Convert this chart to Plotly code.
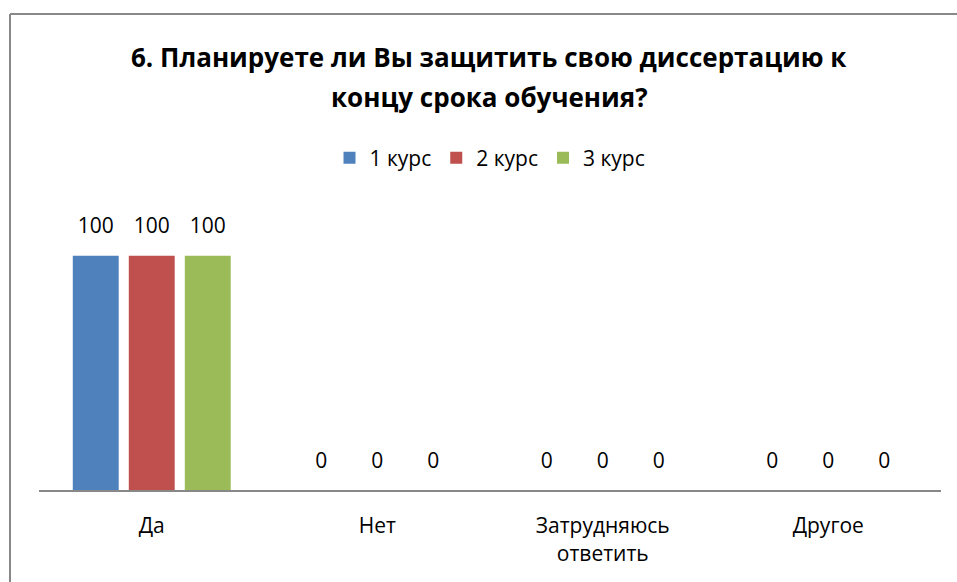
import plotly.graph_objects as go

categories = ["Да", "Нет", "Затрудняюсь<br>ответить", "Другое"]
series_names = ["1 курс", "2 курс", "3 курс"]
course1 = [100, 0, 0, 0]
course2 = [100, 0, 0, 0]
course3 = [100, 0, 0, 0]
colors = ["#4F81BD", "#C0504D", "#9BBB59"]

title_line1 = "6. Планируете ли Вы защитить свою диссертацию к"
title_line2 = "концу срока обучения?"

W, H = 957, 582
ML, MR, MT, MB = 39, 16, 209, 92
FONT = "Open Sans"
FS = 21
BARGAP = 0.255

fig = go.Figure()
for name, vals, col in zip(series_names, [course1, course2, course3], colors):
    fig.add_trace(go.Bar(
        name=name, x=categories, y=vals, marker=dict(color=col, line=dict(width=0)),
        hoverinfo="x+y+name",
    ))
for name, vals in zip(series_names, [course1, course2, course3]):
    fig.add_trace(go.Scatter(
        name=name, x=categories, y=vals, mode="markers+text",
        text=[str(v) for v in vals], textposition="top center",
        marker=dict(size=26, opacity=0), cliponaxis=False,
        textfont=dict(family=FONT, size=FS, color="#000000"),
        showlegend=False, hoverinfo="skip",
    ))

pw = W - ML - MR
ph = H - MT - MB

def px_x(p):
    return (p - ML) / pw

def px_y(p):
    return (H - MB - p) / ph

fig.update_layout(
    width=W, height=H,
    margin=dict(l=ML, r=MR, t=MT, b=MB),
    paper_bgcolor="white", plot_bgcolor="white",
    barmode="group", bargap=BARGAP, bargroupgap=0.18,
    scattermode="group", scattergap=BARGAP,
    font=dict(family=FONT, size=FS, color="#000000"),
    showlegend=True,
    legend=dict(orientation="h", x=px_x(490), xanchor="center", y=px_y(158), yanchor="middle",
                font=dict(family=FONT, size=FS), itemwidth=30, traceorder="normal",
                itemsizing="constant", tracegroupgap=0),
    xaxis=dict(showline=True, linecolor="#888888", linewidth=2, ticks="", showgrid=False,
               ticklabelstandoff=16, tickfont=dict(family=FONT, size=FS)),
    yaxis=dict(range=[0, 120], visible=False, showgrid=False, zeroline=False),
    annotations=[
        dict(text="<b>" + title_line1 + "</b>", xref="paper", yref="paper",
             x=px_x(489), y=px_y(57), xanchor="center", yanchor="middle", showarrow=False,
             font=dict(family=FONT, size=26, color="#000000")),
        dict(text="<b>" + title_line2 + "</b>", xref="paper", yref="paper",
             x=px_x(489), y=px_y(97), xanchor="center", yanchor="middle", showarrow=False,
             font=dict(family=FONT, size=26, color="#000000")),
    ],
    shapes=[
        dict(type="line", xref="paper", yref="paper", x0=px_x(10), x1=px_x(957),
             y0=px_y(14), y1=px_y(14), line=dict(color="#888888", width=2)),
        dict(type="line", xref="paper", yref="paper", x0=px_x(10), x1=px_x(10),
             y0=px_y(14), y1=px_y(582), line=dict(color="#888888", width=2)),
    ],
)

fig.write_html("out.html", config={"displayModeBar": False},
               post_script="document.body.style.margin='0';document.body.style.overflow='hidden';")
